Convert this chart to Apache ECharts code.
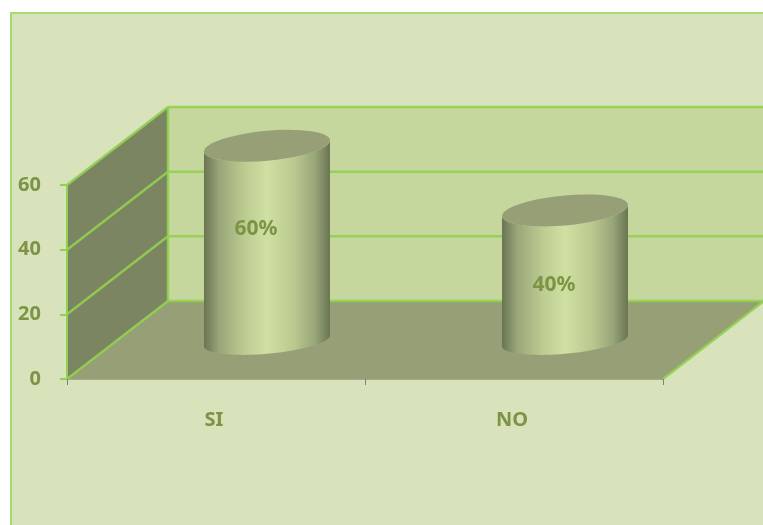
<!DOCTYPE html>
<html>
<head>
<meta charset="utf-8">
<script src="https://cdn.jsdelivr.net/npm/echarts@6/dist/echarts.min.js"></script>
<style>
  html, body {margin: 0; padding: 0; background: #fff;}
  #chart {width: 763px; height: 525px;}
</style>
</head>
<body>
<div id="chart"></div>
<script>
const categories = ['SI', 'NO'];
const values = [60, 40];
const yTicks = [0, 20, 40, 60];

const green = '#92d050';
const textColor = '#7d9444';
const labelFont = 'bold 21px "Noto Sans", sans-serif';
// 3d look: how far the back wall is pushed from the front plane
const depthX = 101;
const depthY = 78;
// the bars stand halfway into the floor
const barDepth = 0.49;
const barHalfW = 63;
const tiltY = 5.5;
const topFlat = 15;
const baseFlat = 13;
// height of the % label on the bar, in axis units
const labelLift = [34.7, 17.4];

const wallLine = (x1, y1, x2, y2) => ({
  type: 'line',
  shape: {x1, y1, x2, y2},
  style: {stroke: green, lineWidth: 2.5, opacity: 0.9}
});

const renderWalls = (params, api) => {
  const sys = params.coordSys;
  const left = sys.x;
  const right = sys.x + sys.width;
  const y0 = api.coord([0, yTicks[0]])[1];
  const yTop = api.coord([0, yTicks[yTicks.length - 1]])[1];
  const children = [
    {type: 'polygon', shape: {points: [[left + depthX, yTop - depthY], [right + depthX, yTop - depthY], [right + depthX, y0 - depthY], [left + depthX, y0 - depthY]]}, style: {fill: '#c6d79e'}},
    {type: 'polygon', shape: {points: [[left, yTop], [left + depthX, yTop - depthY], [left + depthX, y0 - depthY], [left, y0]]}, style: {fill: '#7b8561'}},
    {type: 'polygon', shape: {points: [[left, y0], [left + depthX, y0 - depthY], [right + depthX, y0 - depthY], [right, y0]]}, style: {fill: '#969f75'}}
  ];
  yTicks.forEach(t => {
    const y = api.coord([0, t])[1];
    children.push(wallLine(left, y, left + depthX, y - depthY));
    children.push(wallLine(left + depthX, y - depthY, right + depthX, y - depthY));
  });
  children.push(wallLine(left + depthX, yTop - depthY, left + depthX, y0 - depthY));
  children.push(wallLine(right, y0, right + depthX, y0 - depthY));
  return {type: 'group', children};
};

// sheared ellipse, t in radians
const arc = (cx, cy, flat, from, to) => {
  const pts = [];
  for (let i = 0; i <= 40; i++) {
    const t = from + (to - from) * i / 40;
    pts.push([
      cx + barHalfW * Math.cos(t),
      cy - tiltY * Math.cos(t) + flat * Math.sin(t)
    ]);
  }
  return pts;
};

const renderBar = (params, api) => {
  const i = api.value(0);
  const front = api.coord([i, 0]);
  const top = api.coord([i, api.value(1)]);
  const cx = front[0] + barDepth * depthX + 1.5;
  const baseY = front[1] - barDepth * depthY;
  const topY = top[1] - barDepth * depthY - 1;
  const labelY = api.coord([i, labelLift[i]])[1] - barDepth * depthY;
  return {
    type: 'group',
    children: [
      {
        type: 'polygon',
        shape: {points: arc(cx, topY, topFlat, Math.PI, 0).concat(arc(cx, baseY, baseFlat, 0, Math.PI))},
        style: {
          fill: new echarts.graphic.LinearGradient(0, 0, 1, 0, [
            {offset: 0, color: '#6a7452'},
            {offset: 0.12, color: '#98a679'},
            {offset: 0.32, color: '#bccb90'},
            {offset: 0.5, color: '#d0e0a2'},
            {offset: 0.72, color: '#b9c88e'},
            {offset: 0.88, color: '#98a679'},
            {offset: 1, color: '#6a7452'}
          ])
        }
      },
      {
        type: 'polygon',
        shape: {points: arc(cx, topY, topFlat, 0, Math.PI * 2)},
        style: {fill: '#969f75'}
      },
      {
        type: 'text',
        style: {
          text: values[i] + '%',
          x: cx - 11,
          y: labelY,
          align: 'center',
          verticalAlign: 'middle',
          fill: textColor,
          font: labelFont
        }
      }
    ]
  };
};

const myChart = echarts.init(document.getElementById('chart'));
myChart.setOption({
  animation: false,
  backgroundColor: '#fff',
  graphic: [{
    type: 'rect',
    z: -10,
    silent: true,
    shape: {x: 11, y: 13, width: 780, height: 540},
    style: {fill: '#d8e3bb', stroke: '#a5dc70', lineWidth: 2}
  }],
  grid: {left: 67, top: 185, width: 596, height: 194},
  xAxis: {
    type: 'category',
    z: 3,
    data: categories,
    axisLine: {show: true, lineStyle: {color: '#a3a88f', width: 1}},
    axisTick: {show: true, length: 6, lineStyle: {color: '#808080'}},
    axisLabel: {margin: 31, padding: [0, 4, 0, 0], color: textColor, fontFamily: 'Noto Sans', fontWeight: 'bold', fontSize: 20}
  },
  yAxis: {
    type: 'value',
    z: 3,
    min: 0,
    max: 60,
    interval: 20,
    splitLine: {show: false},
    axisLine: {show: true, lineStyle: {color: green, width: 2}},
    axisTick: {show: true, length: 7, lineStyle: {color: green, width: 2}},
    axisLabel: {margin: 26, padding: [2, 0, 0, 0], color: textColor, fontFamily: 'Noto Sans', fontWeight: 'bold', fontSize: 20}
  },
  series: [
    {type: 'custom', silent: true, z: 1, renderItem: renderWalls, data: [[0, 0]]},
    {type: 'custom', silent: true, z: 2, renderItem: renderBar, data: values.map((v, i) => [i, v])}
  ]
});
</script>
</body>
</html>
